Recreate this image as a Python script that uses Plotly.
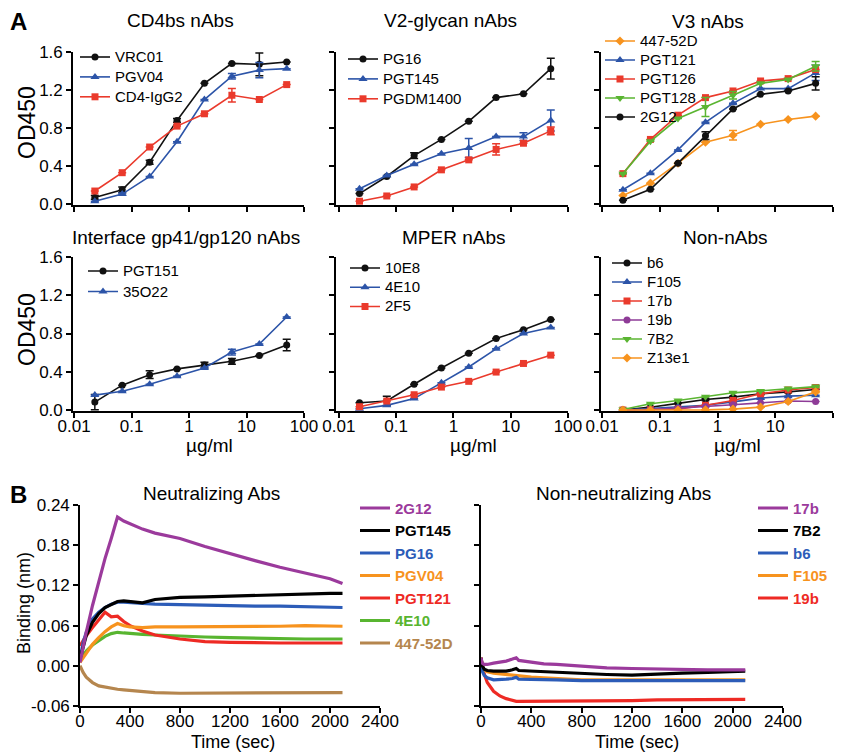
import plotly.graph_objects as go

W, H = 844, 756
FONT = "Arial, Liberation Sans, sans-serif"

# ---------------- Panel A data (ELISA) ----------------
CONC = [0.0229, 0.0686, 0.206, 0.617, 1.85, 5.56, 16.7, 50]

CD4BS = {
    "VRC01": ([0.07, 0.15, 0.44, 0.88, 1.27, 1.48, 1.47, 1.495], [0.02, 0.03, 0.02, 0.02, 0, 0, 0.12, 0]),
    "PGV04": ([0.03, 0.105, 0.29, 0.655, 1.10, 1.345, 1.41, 1.425], [0, 0.01, 0, 0, 0, 0.03, 0.08, 0]),
    "CD4-IgG2": ([0.137, 0.33, 0.60, 0.82, 0.95, 1.145, 1.10, 1.257], [0, 0, 0, 0, 0, 0.07, 0, 0]),
}
V2 = {
    "PG16": ([0.11, 0.29, 0.51, 0.68, 0.87, 1.12, 1.16, 1.425], [0, 0, 0.03, 0, 0, 0, 0, 0.11]),
    "PGT145": ([0.16, 0.30, 0.42, 0.53, 0.59, 0.71, 0.71, 0.88], [0, 0, 0, 0, 0.1, 0, 0.04, 0.11]),
    "PGDM1400": ([0.03, 0.085, 0.18, 0.36, 0.465, 0.575, 0.64, 0.77], [0, 0, 0, 0, 0, 0.06, 0, 0.04]),
}
V3 = {
    "447-52D": ([0.09, 0.22, 0.43, 0.65, 0.725, 0.84, 0.89, 0.925], [0, 0, 0, 0, 0.05, 0, 0, 0]),
    "PGT121": ([0.15, 0.325, 0.57, 0.86, 1.06, 1.215, 1.215, 1.38], [0, 0, 0, 0, 0, 0, 0, 0.08]),
    "PGT126": ([0.32, 0.68, 0.935, 1.12, 1.19, 1.295, 1.32, 1.415], [0, 0, 0, 0, 0, 0, 0, 0]),
    "PGT128": ([0.32, 0.66, 0.90, 1.02, 1.145, 1.27, 1.31, 1.45], [0, 0, 0, 0.1, 0.04, 0, 0, 0.05]),
    "2G12": ([0.04, 0.155, 0.43, 0.72, 1.0, 1.155, 1.19, 1.27], [0, 0, 0, 0.04, 0, 0, 0, 0.07]),
}
INTERFACE = {
    "PGT151": ([0.083, 0.26, 0.37, 0.43, 0.47, 0.51, 0.57, 0.68], [0.08, 0, 0.04, 0, 0.03, 0.03, 0, 0.06]),
    "35O22": ([0.156, 0.197, 0.27, 0.353, 0.44, 0.606, 0.69, 0.973], [0, 0, 0, 0, 0, 0.03, 0, 0]),
}
MPER = {
    "10E8": ([0.077, 0.094, 0.27, 0.44, 0.595, 0.748, 0.84, 0.946], [0, 0.05, 0, 0, 0, 0, 0, 0]),
    "4E10": ([0.014, 0.049, 0.12, 0.285, 0.45, 0.64, 0.80, 0.863], [0, 0, 0, 0, 0, 0, 0, 0]),
    "2F5": ([0.035, 0.094, 0.16, 0.24, 0.30, 0.397, 0.487, 0.574], [0, 0, 0, 0, 0, 0, 0, 0]),
}
NONNABS = {
    "b6": ([0.0, 0.03, 0.07, 0.11, 0.135, 0.17, 0.19, 0.215], [0, 0, 0, 0.01, 0.01, 0.01, 0.01, 0]),
    "F105": ([0.0, 0.015, 0.035, 0.05, 0.085, 0.125, 0.145, 0.155], [0, 0, 0, 0, 0, 0, 0, 0]),
    "17b": ([0.0, 0.005, 0.01, 0.05, 0.10, 0.17, 0.21, 0.235], [0, 0, 0, 0, 0, 0, 0, 0.01]),
    "19b": ([0.0, 0.005, 0.02, 0.035, 0.055, 0.075, 0.095, 0.09], [0, 0, 0, 0, 0, 0, 0, 0]),
    "7B2": ([0.005, 0.065, 0.10, 0.14, 0.18, 0.20, 0.225, 0.245], [0, 0, 0, 0, 0, 0, 0, 0.01]),
    "Z13e1": ([0.0, 0.0, 0.0, 0.002, 0.01, 0.03, 0.09, 0.19], [0, 0, 0, 0, 0, 0, 0, 0.01]),
}

# ---------------- Panel B data (BLI sensorgrams) ----------------
T_NEUT = [0, 25, 50, 100, 150, 200, 250, 300, 350, 400, 500, 600, 800, 1000, 1200, 1400, 1600, 1800, 2000, 2100]
NEUT = {
    "2G12": [0.005, 0.03, 0.05, 0.09, 0.125, 0.16, 0.19, 0.222, 0.216, 0.212, 0.204, 0.198, 0.19, 0.178, 0.167, 0.157, 0.147, 0.139, 0.13, 0.123],
    "PGT145": [0.01, 0.03, 0.045, 0.065, 0.078, 0.087, 0.092, 0.096, 0.097, 0.096, 0.094, 0.099, 0.102, 0.103, 0.104, 0.105, 0.107, 0.107, 0.108, 0.108],
    "PG16": [0.01, 0.035, 0.05, 0.07, 0.08, 0.087, 0.092, 0.095, 0.095, 0.094, 0.093, 0.092, 0.091, 0.09, 0.09, 0.089, 0.089, 0.088, 0.088, 0.087],
    "PGV04": [0.005, 0.012, 0.02, 0.032, 0.042, 0.051, 0.058, 0.063, 0.06, 0.058, 0.057, 0.058, 0.058, 0.058, 0.058, 0.058, 0.059, 0.06, 0.06, 0.059],
    "PGT121": [0.03, 0.038, 0.045, 0.057, 0.068, 0.08, 0.073, 0.074, 0.066, 0.06, 0.052, 0.046, 0.04, 0.036, 0.035, 0.034, 0.034, 0.034, 0.034, 0.034],
    "4E10": [0.008, 0.016, 0.022, 0.031, 0.038, 0.044, 0.048, 0.05, 0.049, 0.048, 0.047, 0.046, 0.044, 0.043, 0.042, 0.041, 0.041, 0.04, 0.04, 0.04],
    "447-52D": [0.0, -0.01, -0.017, -0.025, -0.03, -0.032, -0.034, -0.035, -0.036, -0.037, -0.039, -0.04, -0.041, -0.041, -0.041, -0.041, -0.041, -0.041, -0.041, -0.04],
}
T_NON = [0, 10, 25, 50, 100, 150, 200, 250, 280, 300, 400, 500, 600, 800, 1000, 1200, 1400, 1600, 1800, 2000, 2100]
NONNEUT = {
    "17b": [0.012, 0.004, 0.002, 0.002, 0.004, 0.005, 0.007, 0.01, 0.012, 0.008, 0.005, 0.003, 0.002, -0.001, -0.003, -0.004, -0.005, -0.005, -0.006, -0.006, -0.006],
    "7B2": [0.012, 0.0, -0.005, -0.007, -0.008, -0.008, -0.008, -0.006, -0.004, -0.007, -0.008, -0.009, -0.01, -0.012, -0.013, -0.014, -0.012, -0.011, -0.01, -0.009, -0.008],
    "b6": [0.008, -0.008, -0.014, -0.018, -0.021, -0.021, -0.02, -0.019, -0.017, -0.02, -0.02, -0.02, -0.021, -0.022, -0.022, -0.022, -0.022, -0.022, -0.022, -0.022, -0.022],
    "F105": [0.012, 0.0, -0.006, -0.009, -0.011, -0.012, -0.013, -0.014, -0.015, -0.015, -0.017, -0.018, -0.019, -0.021, -0.021, -0.021, -0.02, -0.02, -0.02, -0.02, -0.021],
    "19b": [0.012, -0.002, -0.012, -0.025, -0.038, -0.045, -0.049, -0.052, -0.053, -0.053, -0.053, -0.052, -0.052, -0.053, -0.053, -0.052, -0.051, -0.051, -0.05, -0.05, -0.05],
}

OD_TICKS = [0.0, 0.4, 0.8, 1.2, 1.6]
OD_TICKTEXT = ["0.0", "0.4", "0.8", "1.2", "1.6"]
CONC_TICKS = [0.01, 0.1, 1, 10, 100]
CONC_TICKTEXT = ["0.01", "0.1", "1", "10", "100"]
BLI_YTICKS = [-0.06, 0.0, 0.06, 0.12, 0.18, 0.24]
BLI_YTICKTEXT = ["-0.06", "0.00", "0.06", "0.12", "0.18", "0.24"]
BLI_XTICKS = [0, 400, 800, 1200, 1600, 2000, 2400]

# ---------------- styles ----------------
BLACK, BLUE, RED, GREEN, ORANGE, PURPLE = "#111111", "#2c54a8", "#ea3a2c", "#5ab531", "#f7931e", "#8e3b97"
STYLE = {
    "VRC01": (BLACK, "circle"), "PGV04": (BLUE, "triangle-up"), "CD4-IgG2": (RED, "square"),
    "PG16": (BLACK, "circle"), "PGT145": (BLUE, "triangle-up"), "PGDM1400": (RED, "square"),
    "447-52D": (ORANGE, "diamond"), "PGT121": (BLUE, "triangle-up"), "PGT126": (RED, "square"),
    "PGT128": (GREEN, "triangle-down"), "2G12": (BLACK, "circle"),
    "PGT151": (BLACK, "circle"), "35O22": (BLUE, "triangle-up"),
    "10E8": (BLACK, "circle"), "4E10": (BLUE, "triangle-up"), "2F5": (RED, "square"),
    "b6": (BLACK, "circle"), "F105": (BLUE, "triangle-up"), "17b": (RED, "square"),
    "19b": (PURPLE, "circle"), "7B2": (GREEN, "triangle-down"), "Z13e1": (ORANGE, "diamond"),
}
NEUT_COL = {"2G12": "#9b3a9c", "PGT145": "#000000", "PG16": "#2c5cb8", "PGV04": "#f7931e",
            "PGT121": "#ee2a24", "4E10": "#58b530", "447-52D": "#b5864e"}
NONNEUT_COL = {"17b": "#9b3a9c", "7B2": "#000000", "b6": "#2c5cb8", "F105": "#f7931e", "19b": "#ee2a24"}


def px(x):
    return x / W


def py(y):
    return 1 - y / H


fig = go.Figure()

A_COLS = [(73, 304, -2.02), (336, 568, -2.05), (601, 833, -2.02)]
A_ROWS = [(52, 205, -0.01), (257, 411, -0.01)]
A_PANELS = [
    (CD4BS, 0, 0, "CD4bs nAbs"), (V2, 0, 1, "V2-glycan nAbs"), (V3, 0, 2, "V3 nAbs"),
    (INTERFACE, 1, 0, "Interface gp41/gp120 nAbs"), (MPER, 1, 1, "MPER nAbs"), (NONNABS, 1, 2, "Non-nAbs"),
]
# legend placement: (line start x, first row centre y, spacing font size, text size)
A_LEG = [(83, 57, 13, 15), (351, 59, 13, 15), (608, 41, 12, 15),
         (91, 271, 13.5, 15), (353, 268, 12.5, 15), (615, 263, 12, 15)]
A_TITLES = [(180, 20), (450, 20), (708, 22), (186, 237), (453, 237), (725, 237)]

layout = dict(
    width=W, height=H, margin=dict(l=0, r=0, t=0, b=0, autoexpand=False),
    paper_bgcolor="white", plot_bgcolor="white",
    font=dict(family=FONT, color="black", size=17),
)
annotations = []

axis_common = dict(showline=True, linecolor="black", linewidth=1.6, ticks="outside",
                   ticklen=5, tickwidth=1.6, tickcolor="black", showgrid=False, zeroline=False,
                   tickfont=dict(size=17, family=FONT, color="black"))
XSTANDOFF = -6


def leg_top(row_y, fs):
    h = max(fs * 1.3, 16) + 3
    return row_y - h / 2 - 5


for i, (data, r, c, title) in enumerate(A_PANELS):
    n = i + 1
    xa = "xaxis" if n == 1 else f"xaxis{n}"
    ya = "yaxis" if n == 1 else f"yaxis{n}"
    xref = "x" if n == 1 else f"x{n}"
    yref = "y" if n == 1 else f"y{n}"
    lg = "legend" if n == 1 else f"legend{n}"
    x0, x1, xr0 = A_COLS[c]
    y0, y1, yr0 = A_ROWS[r]
    layout[xa] = dict(axis_common, type="log", domain=[px(x0), px(x1)], range=[xr0, 2.0],
                      anchor=yref, tickvals=CONC_TICKS, ticktext=CONC_TICKTEXT,
                      showticklabels=(r == 1), ticklabelstandoff=XSTANDOFF)
    layout[ya] = dict(axis_common, domain=[py(y1), py(y0)], range=[yr0, 1.6], anchor=xref,
                      tickvals=OD_TICKS, ticktext=OD_TICKTEXT, showticklabels=(c == 0))
    lx, ly, fs, ts = A_LEG[i]
    for name, (vals, errs) in data.items():
        col, sym = STYLE[name]
        fig.add_trace(go.Scatter(
            x=CONC, y=vals, name=f"<span style='font-size:{ts}px'>{name}</span>",
            mode="lines+markers", xaxis=xref, yaxis=yref, legend=lg,
            line=dict(color=col, width=1.6),
            marker=dict(color=col, symbol=sym, size=8 if "triangle" in sym else 7),
            error_y=dict(type="data", array=errs, visible=True, color=col, thickness=1.5, width=4),
        ))
    layout[lg] = dict(x=px(lx - 8), y=py(leg_top(ly, fs)), xanchor="left", yanchor="top",
                      bgcolor="rgba(0,0,0,0)", borderwidth=0, tracegroupgap=0, itemwidth=30,
                      font=dict(size=fs, family=FONT, color="black"))
    tx, ty = A_TITLES[i]
    annotations.append(dict(text=title, x=px(tx), y=py(ty), xref="paper", yref="paper",
                            showarrow=False, font=dict(size=19, family=FONT), xanchor="center", yanchor="middle"))

for cy in (122, 329):
    annotations.append(dict(text="OD450", x=px(27), y=py(cy), xref="paper", yref="paper", textangle=-90,
                            showarrow=False, font=dict(size=23, family=FONT), xanchor="center", yanchor="middle"))
for cx in (209, 473, 737):
    annotations.append(dict(text="µg/ml", x=px(cx), y=py(445), xref="paper", yref="paper",
                            showarrow=False, font=dict(size=19, family=FONT), xanchor="center", yanchor="middle"))

# ---------------- Panel B ----------------
B_PANELS = [(T_NEUT, NEUT, NEUT_COL, 80, 380, "Neutralizing Abs", 211, 233, 360),
            (T_NON, NONNEUT, NONNEUT_COL, 481, 783, "Non-neutralizing Abs", 623, 637, 758)]
for j, (T, data, cols, x0, x1, title, tcx, xtx, legx) in enumerate(B_PANELS):
    n = 7 + j
    xa, ya, xref, yref, lg = f"xaxis{n}", f"yaxis{n}", f"x{n}", f"y{n}", f"legend{n}"
    layout[xa] = dict(axis_common, domain=[px(x0), px(x1)], range=[0, 2400], anchor=yref,
                      tickvals=BLI_XTICKS, ticklabelstandoff=XSTANDOFF)
    layout[ya] = dict(axis_common, domain=[py(706), py(505)], range=[-0.06, 0.24], anchor=xref,
                      tickvals=BLI_YTICKS, ticktext=BLI_YTICKTEXT, showticklabels=(j == 0))
    names = list(data.keys())
    for name in reversed(names):
        col = cols[name]
        fig.add_trace(go.Scatter(
            x=T, y=data[name], mode="lines", xaxis=xref, yaxis=yref, legend=lg,
            name=f"<b><span style='color:{col}'>{name}</span></b>",
            legendrank=names.index(name) + 1,
            line=dict(color=col, width=3.2),
        ))
    layout[lg] = dict(x=px(legx - 5), y=py(leg_top(508, 15)), xanchor="left", yanchor="top",
                      bgcolor="rgba(0,0,0,0)", borderwidth=0, tracegroupgap=0, itemwidth=30,
                      font=dict(size=15, family=FONT, color="black"))
    annotations.append(dict(text=title, x=px(tcx), y=py(493), xref="paper", yref="paper",
                            showarrow=False, font=dict(size=19, family=FONT), xanchor="center", yanchor="middle"))
    annotations.append(dict(text="Time (sec)", x=px(xtx), y=py(742), xref="paper", yref="paper",
                            showarrow=False, font=dict(size=18, family=FONT), xanchor="center", yanchor="middle"))

annotations.append(dict(text="Binding (nm)", x=px(24), y=py(603), xref="paper", yref="paper", textangle=-90,
                        showarrow=False, font=dict(size=18, family=FONT), xanchor="center", yanchor="middle"))
annotations.append(dict(text="<b>A</b>", x=px(18), y=py(22), xref="paper", yref="paper",
                        showarrow=False, font=dict(size=24, family=FONT), xanchor="center", yanchor="middle"))
annotations.append(dict(text="<b>B</b>", x=px(18), y=py(494), xref="paper", yref="paper",
                        showarrow=False, font=dict(size=24, family=FONT), xanchor="center", yanchor="middle"))

layout["annotations"] = annotations
layout["showlegend"] = True
fig.update_layout(**layout)
fig.write_html("out.html", config={"displayModeBar": False},
               post_script="document.body.style.margin='0';")
